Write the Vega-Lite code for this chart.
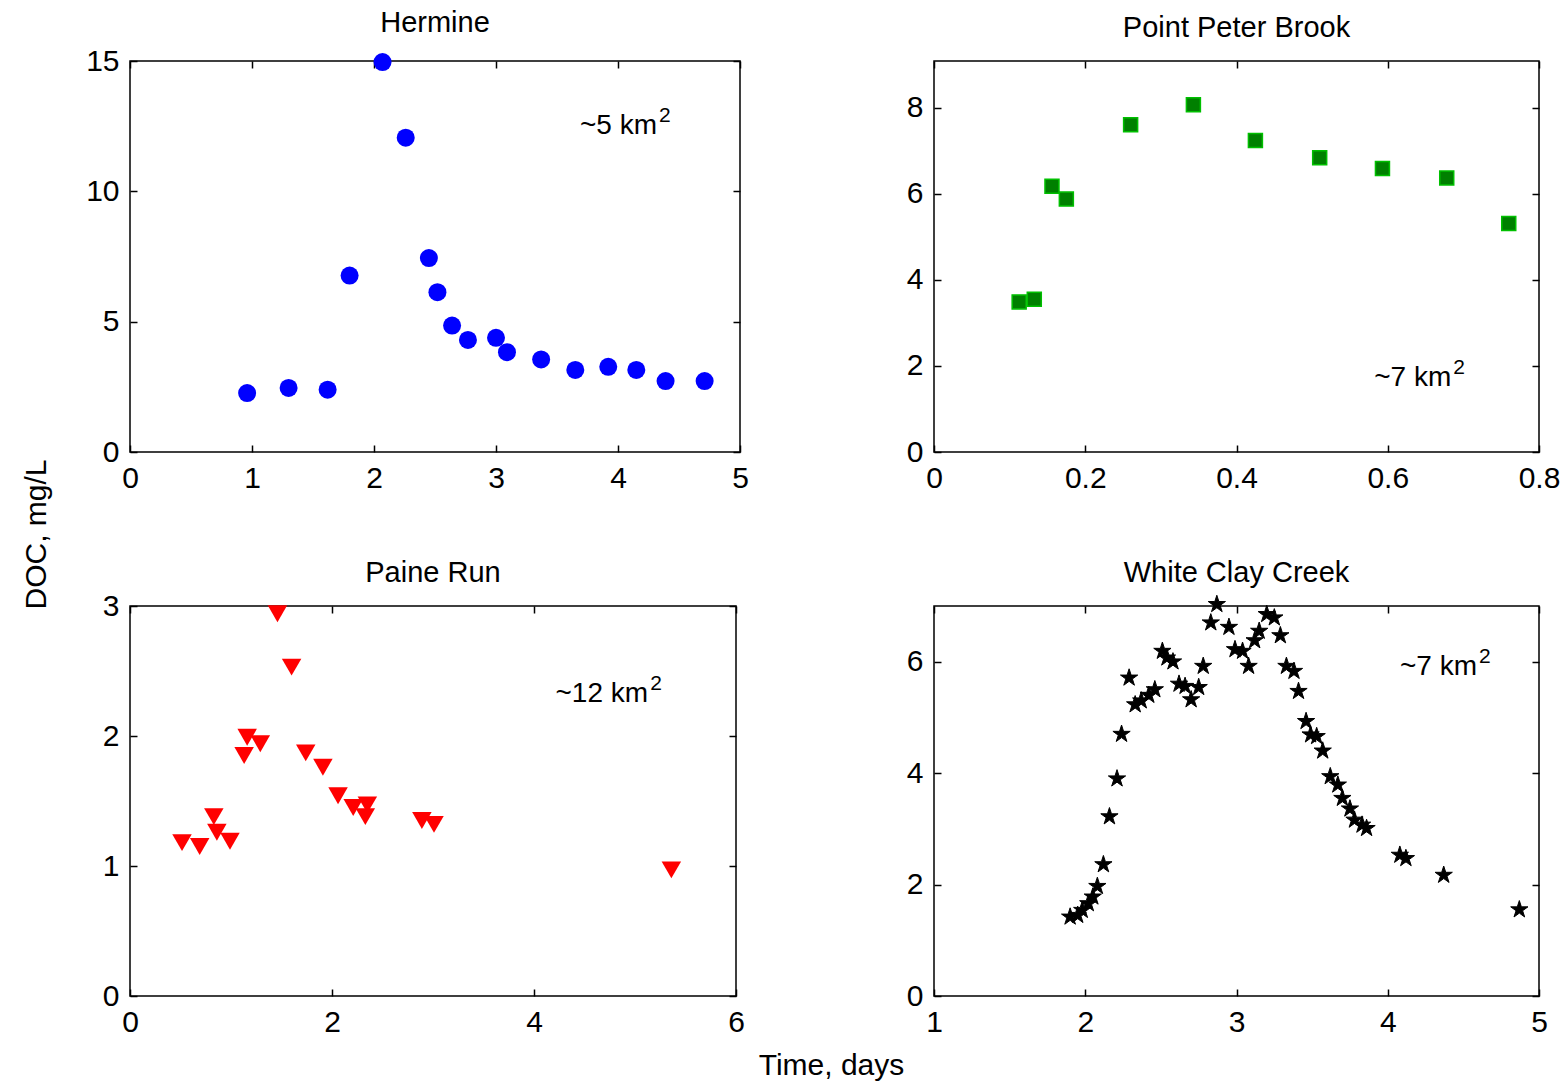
{
  "$schema": "https://vega.github.io/schema/vega-lite/v6.json",
  "background": "white",
  "padding": {"left": 20, "top": 8, "right": 5, "bottom": 5},
  "datasets": {
    "hermine": [
      {"time": 0.96, "doc": 2.26}, {"time": 1.30, "doc": 2.46}, {"time": 1.62, "doc": 2.39},
      {"time": 1.80, "doc": 6.77}, {"time": 2.07, "doc": 14.96}, {"time": 2.26, "doc": 12.06},
      {"time": 2.45, "doc": 7.44}, {"time": 2.52, "doc": 6.13}, {"time": 2.64, "doc": 4.85},
      {"time": 2.77, "doc": 4.30}, {"time": 3.00, "doc": 4.38}, {"time": 3.09, "doc": 3.83},
      {"time": 3.37, "doc": 3.55}, {"time": 3.65, "doc": 3.15}, {"time": 3.92, "doc": 3.27},
      {"time": 4.15, "doc": 3.15}, {"time": 4.39, "doc": 2.72}, {"time": 4.71, "doc": 2.72}
    ],
    "ppb": [
      {"time": 0.1126, "doc": 3.49}, {"time": 0.1326, "doc": 3.55}, {"time": 0.156, "doc": 6.18},
      {"time": 0.175, "doc": 5.88}, {"time": 0.260, "doc": 7.61}, {"time": 0.343, "doc": 8.07},
      {"time": 0.425, "doc": 7.24}, {"time": 0.510, "doc": 6.84}, {"time": 0.593, "doc": 6.59},
      {"time": 0.678, "doc": 6.37}, {"time": 0.760, "doc": 5.31}
    ],
    "paine": [
      {"time": 0.515, "doc": 1.18}, {"time": 0.69, "doc": 1.15}, {"time": 0.83, "doc": 1.38},
      {"time": 0.86, "doc": 1.26}, {"time": 0.99, "doc": 1.19}, {"time": 1.13, "doc": 1.85},
      {"time": 1.16, "doc": 1.99}, {"time": 1.29, "doc": 1.94}, {"time": 1.46, "doc": 2.94},
      {"time": 1.60, "doc": 2.53}, {"time": 1.74, "doc": 1.87}, {"time": 1.91, "doc": 1.76},
      {"time": 2.06, "doc": 1.54}, {"time": 2.21, "doc": 1.45}, {"time": 2.35, "doc": 1.47},
      {"time": 2.33, "doc": 1.38}, {"time": 2.89, "doc": 1.35}, {"time": 3.01, "doc": 1.32},
      {"time": 5.36, "doc": 0.97}
    ],
    "wcc": [
      {"time": 1.90, "doc": 1.42}, {"time": 1.95, "doc": 1.45}, {"time": 1.98, "doc": 1.54},
      {"time": 2.02, "doc": 1.66}, {"time": 2.05, "doc": 1.78}, {"time": 2.08, "doc": 1.97},
      {"time": 2.12, "doc": 2.36}, {"time": 2.16, "doc": 3.22}, {"time": 2.21, "doc": 3.90},
      {"time": 2.24, "doc": 4.70}, {"time": 2.29, "doc": 5.71}, {"time": 2.33, "doc": 5.23},
      {"time": 2.37, "doc": 5.30}, {"time": 2.42, "doc": 5.40}, {"time": 2.46, "doc": 5.50},
      {"time": 2.51, "doc": 6.19}, {"time": 2.54, "doc": 6.07}, {"time": 2.58, "doc": 6.00},
      {"time": 2.62, "doc": 5.60}, {"time": 2.66, "doc": 5.56}, {"time": 2.70, "doc": 5.32},
      {"time": 2.75, "doc": 5.54}, {"time": 2.78, "doc": 5.92}, {"time": 2.83, "doc": 6.70},
      {"time": 2.87, "doc": 7.03}, {"time": 2.95, "doc": 6.62}, {"time": 2.99, "doc": 6.22},
      {"time": 3.04, "doc": 6.19}, {"time": 3.08, "doc": 5.92}, {"time": 3.12, "doc": 6.38},
      {"time": 3.15, "doc": 6.55}, {"time": 3.20, "doc": 6.85}, {"time": 3.25, "doc": 6.79},
      {"time": 3.29, "doc": 6.47}, {"time": 3.33, "doc": 5.92}, {"time": 3.38, "doc": 5.83},
      {"time": 3.41, "doc": 5.47}, {"time": 3.46, "doc": 4.93}, {"time": 3.49, "doc": 4.69},
      {"time": 3.53, "doc": 4.66}, {"time": 3.57, "doc": 4.40}, {"time": 3.62, "doc": 3.94},
      {"time": 3.67, "doc": 3.79}, {"time": 3.70, "doc": 3.55}, {"time": 3.75, "doc": 3.36},
      {"time": 3.78, "doc": 3.16}, {"time": 3.83, "doc": 3.07}, {"time": 3.86, "doc": 3.01},
      {"time": 4.08, "doc": 2.53}, {"time": 4.12, "doc": 2.47}, {"time": 4.37, "doc": 2.17},
      {"time": 4.87, "doc": 1.55}
    ]
  },
  "columns": 2,
  "spacing": {"row": 154, "column": 194},
  "bounds": "flush",
  "concat": [
    {
      "width": 610, "height": 391,
      "title": {"text": "Hermine", "offset": 8},
      "layer": [
        {
          "data": {"name": "hermine"},
          "mark": {"type": "point", "shape": "circle", "filled": true, "size": 324, "color": "#0000ff", "opacity": 1},
          "encoding": {
            "x": {"field": "time", "type": "quantitative", "scale": {"domain": [0, 5], "nice": false, "zero": false}, "axis": {"values": [0, 1, 2, 3, 4, 5], "title": null}},
            "y": {"field": "doc", "type": "quantitative", "scale": {"domain": [0, 15], "nice": false}, "axis": {"values": [0, 5, 10, 15], "title": "DOC, mg/L", "titleX": -94, "titleY": 473, "titleAlign": "center", "titleBaseline": "middle", "titleAngle": -90}}
          }
        },
        {
          "data": {"values": [{}]},
          "mark": {"type": "text", "text": "~5 km", "align": "right", "baseline": "alphabetic", "fontSize": 28, "color": "black"},
          "encoding": {
            "x": {"datum": 4.32, "type": "quantitative", "axis": {"orient": "top", "labels": false, "values": [0, 1, 2, 3, 4, 5], "title": null}},
            "y": {"datum": 12.2, "type": "quantitative", "axis": {"orient": "right", "labels": false, "values": [0, 5, 10, 15], "title": null}}
          }
        },
        {
          "data": {"values": [{}]},
          "mark": {"type": "text", "text": "2", "align": "left", "baseline": "alphabetic", "fontSize": 21, "dx": 2, "dy": -12, "color": "black"},
          "encoding": {
            "x": {"datum": 4.32, "type": "quantitative", "axis": null},
            "y": {"datum": 12.2, "type": "quantitative", "axis": null}
          }
        }
      ],
      "resolve": {"axis": {"x": "independent", "y": "independent"}}
    },
    {
      "width": 605, "height": 391,
      "title": {"text": "Point Peter Brook", "offset": 17},
      "layer": [
        {
          "data": {"name": "ppb"},
          "mark": {"type": "point", "shape": "square", "filled": true, "size": 196, "color": "#008000", "stroke": "#00c000", "strokeWidth": 1.5, "opacity": 1},
          "encoding": {
            "x": {"field": "time", "type": "quantitative", "scale": {"domain": [0, 0.8], "nice": false, "zero": false}, "axis": {"values": [0, 0.2, 0.4, 0.6, 0.8], "format": "~g", "title": null}},
            "y": {"field": "doc", "type": "quantitative", "scale": {"domain": [0, 9.09], "nice": false}, "axis": {"values": [0, 2, 4, 6, 8], "title": null}}
          }
        },
        {
          "data": {"values": [{}]},
          "mark": {"type": "text", "text": "~7 km", "align": "right", "baseline": "alphabetic", "fontSize": 28, "color": "black"},
          "encoding": {
            "x": {"datum": 0.684, "type": "quantitative", "axis": {"orient": "top", "labels": false, "values": [0, 0.2, 0.4, 0.6, 0.8], "title": null}},
            "y": {"datum": 1.53, "type": "quantitative", "axis": {"orient": "right", "labels": false, "values": [0, 2, 4, 6, 8], "title": null}}
          }
        },
        {
          "data": {"values": [{}]},
          "mark": {"type": "text", "text": "2", "align": "left", "baseline": "alphabetic", "fontSize": 21, "dx": 2, "dy": -12, "color": "black"},
          "encoding": {
            "x": {"datum": 0.684, "type": "quantitative", "axis": null},
            "y": {"datum": 1.53, "type": "quantitative", "axis": null}
          }
        }
      ],
      "resolve": {"axis": {"x": "independent", "y": "independent"}}
    },
    {
      "width": 606, "height": 390,
      "title": {"text": "Paine Run", "offset": 3},
      "layer": [
        {
          "data": {"name": "paine"},
          "mark": {"type": "point", "shape": "triangle-down", "filled": true, "size": 380, "color": "#ff0000", "opacity": 1},
          "encoding": {
            "x": {"field": "time", "type": "quantitative", "scale": {"domain": [0, 6], "nice": false, "zero": false}, "axis": {"values": [0, 2, 4, 6], "title": "Time, days", "titleX": 701, "titleY": 69, "titleAlign": "center", "titleBaseline": "middle"}},
            "y": {"field": "doc", "type": "quantitative", "scale": {"domain": [0, 3], "nice": false}, "axis": {"values": [0, 1, 2, 3], "title": null}}
          }
        },
        {
          "data": {"values": [{}]},
          "mark": {"type": "text", "text": "~12 km", "align": "right", "baseline": "alphabetic", "fontSize": 28, "color": "black"},
          "encoding": {
            "x": {"datum": 5.13, "type": "quantitative", "axis": {"orient": "top", "labels": false, "values": [0, 2, 4, 6], "title": null}},
            "y": {"datum": 2.26, "type": "quantitative", "axis": {"orient": "right", "labels": false, "values": [0, 1, 2, 3], "title": null}}
          }
        },
        {
          "data": {"values": [{}]},
          "mark": {"type": "text", "text": "2", "align": "left", "baseline": "alphabetic", "fontSize": 21, "dx": 2, "dy": -12, "color": "black"},
          "encoding": {
            "x": {"datum": 5.13, "type": "quantitative", "axis": null},
            "y": {"datum": 2.26, "type": "quantitative", "axis": null}
          }
        }
      ],
      "resolve": {"axis": {"x": "independent", "y": "independent"}}
    },
    {
      "width": 605, "height": 390,
      "title": {"text": "White Clay Creek", "offset": 5},
      "layer": [
        {
          "data": {"name": "wcc"},
          "mark": {"type": "point", "shape": "M0,-1L0.2233,-0.3074L0.9511,-0.309L0.3614,0.1174L0.5878,0.809L0,0.38L-0.5878,0.809L-0.3614,0.1174L-0.9511,-0.309L-0.2233,-0.3074Z", "filled": true, "size": 330, "color": "black", "stroke": "black", "strokeWidth": 1, "opacity": 1},
          "encoding": {
            "x": {"field": "time", "type": "quantitative", "scale": {"domain": [1, 5], "nice": false, "zero": false}, "axis": {"values": [1, 2, 3, 4, 5], "title": null}},
            "y": {"field": "doc", "type": "quantitative", "scale": {"domain": [0, 7], "nice": false}, "axis": {"values": [0, 2, 4, 6], "title": null}}
          }
        },
        {
          "data": {"values": [{}]},
          "mark": {"type": "text", "text": "~7 km", "align": "right", "baseline": "alphabetic", "fontSize": 28, "color": "black"},
          "encoding": {
            "x": {"datum": 4.59, "type": "quantitative", "axis": {"orient": "top", "labels": false, "values": [1, 2, 3, 4, 5], "title": null}},
            "y": {"datum": 5.77, "type": "quantitative", "axis": {"orient": "right", "labels": false, "values": [0, 2, 4, 6], "title": null}}
          }
        },
        {
          "data": {"values": [{}]},
          "mark": {"type": "text", "text": "2", "align": "left", "baseline": "alphabetic", "fontSize": 21, "dx": 2, "dy": -12, "color": "black"},
          "encoding": {
            "x": {"datum": 4.59, "type": "quantitative", "axis": null},
            "y": {"datum": 5.77, "type": "quantitative", "axis": null}
          }
        }
      ],
      "resolve": {"axis": {"x": "independent", "y": "independent"}}
    }
  ],
  "config": {
    "font": "Liberation Sans",
    "view": {"stroke": "black", "strokeWidth": 1.5},
    "axis": {
      "domain": false, "grid": false, "ticks": true,
      "tickColor": "black", "tickWidth": 1.5, "tickSize": -7,
      "labelFont": "Liberation Sans", "labelFontSize": 30, "labelColor": "black", "labelPadding": 18, "labelFlush": false,
      "titleFont": "Liberation Sans", "titleFontSize": 30, "titleFontWeight": "normal", "titleColor": "black"
    },
    "title": {"font": "Liberation Sans", "fontSize": 29, "fontWeight": "normal", "color": "black", "baseline": "alphabetic"}
  }
}
